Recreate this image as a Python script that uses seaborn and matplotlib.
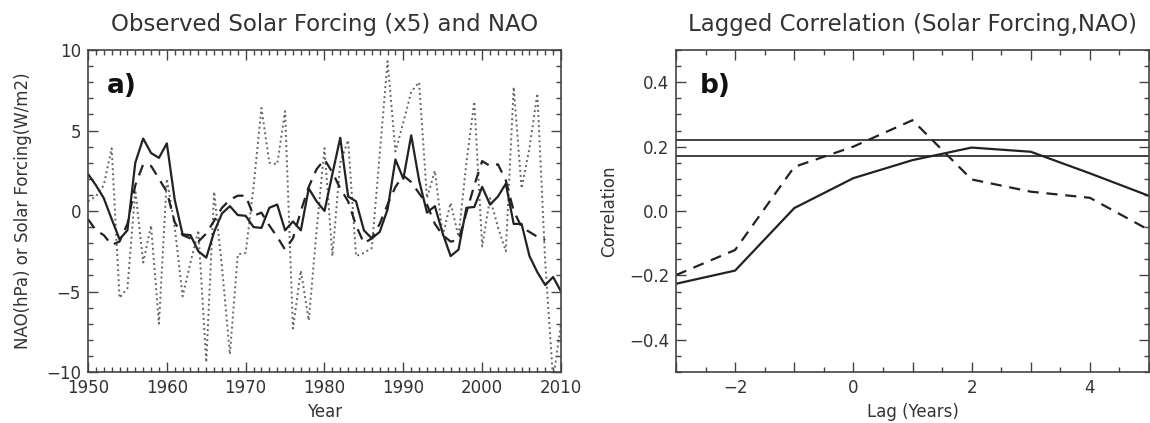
import numpy as np
import pandas as pd
import matplotlib
matplotlib.use("Agg")
import matplotlib.pyplot as plt
from matplotlib.ticker import MultipleLocator, FuncFormatter
import seaborn as sns

# ---------------- data ----------------
years = list(range(1950, 2011))

nao_solid = [2.3, 1.6, 0.8, -0.5, -1.75, -1.2, 3.0, 4.5, 3.6, 3.3,
             4.2, 0.7, -1.45, -1.5, -2.5, -2.9, -1.3, -0.15, 0.3, -0.25,
             -0.3, -1.0, -1.05, 0.2, 0.4, -1.2, -0.65, -1.2, 1.4, 0.6,
             0.0, 2.3, 4.55, 0.9, 0.6, -1.2, -1.7, -1.3, 0.1, 3.2,
             2.0, 4.7, 1.9, -0.1, 0.3, -1.4, -2.8, -2.4, 0.2, 0.25,
             1.5, 0.4, 0.9, 1.7, -0.8, -0.8, -2.8, -3.8, -4.6, -4.1,
             -5.0]

nao_dashed = [-0.5, -1.2, -1.5, -2.1, -1.9, -0.8, 1.6, 2.9, 2.8, 2.0,
              1.2, -0.7, -1.5, -1.7, -1.9, -1.4, -0.6, 0.2, 0.7, 0.95,
              0.95, -0.3, -0.1, -0.9, -1.6, -2.4, -1.7, 0.0, 1.5, 2.6,
              3.2, 2.4, 1.4, 0.6, -0.9, -2.0, -1.7, -0.8, 0.4, 1.5,
              2.2, 1.8, 1.1, 0.4, -0.8, -1.5, -1.9, -1.8, -0.1, 1.6,
              3.1, 2.8, 2.9, 1.9, 0.0, -1.0, -1.3, -1.6, -1.8, np.nan,
              np.nan]

solar_dotted = [0.6, 0.9, 1.6, 3.9, -5.4, -4.8, 1.3, -3.2, -0.9, -7.0,
                2.0, -1.0, -5.3, -3.2, -1.2, -9.4, 1.2, -3.5, -8.9, -2.7,
                -2.6, 1.5, 6.4, 3.0, 2.9, 6.2, -7.3, -3.7, -6.8, -1.2,
                3.9, -2.8, 3.0, 4.4, -2.8, -2.6, -2.3, 3.5, 9.3, 3.7,
                5.5, 7.4, 8.0, 0.8, 2.5, -1.5, 0.5, -1.6, 3.0, 6.8,
                -2.2, 0.8, -1.0, -2.5, 7.7, 1.4, 3.9, 7.3, -3.2, -10.5,
                -7.0]

lags = [-3, -2, -1, 0, 1, 2, 3, 4, 5]
corr_solid = [-0.226, -0.185, 0.009, 0.102, 0.158, 0.197, 0.184, 0.117, 0.047]
corr_dashed = [-0.199, -0.121, 0.137, 0.200, 0.282, 0.098, 0.060, 0.041, -0.059]
sig_levels = [0.22, 0.17]

# ---------------- style ----------------
sns.set_style("ticks")
plt.rcParams['font.family'] = ['DejaVu Sans']
plt.rcParams['xtick.direction'] = 'in'
plt.rcParams['ytick.direction'] = 'in'
plt.rcParams['xtick.top'] = True
plt.rcParams['ytick.right'] = True

fig = plt.figure(figsize=(11.5, 4.23), dpi=100)
W, H = 1150, 423
axa = fig.add_axes([88 / W, (H - 372) / H, 473 / W, 322 / H])
axb = fig.add_axes([676 / W, (H - 372) / H, 473 / W, 322 / H])

ink = "#222222"
txt = "#333333"

dfa = pd.DataFrame({"Year": years, "solid": nao_solid,
                    "dashed": nao_dashed, "dotted": solar_dotted})

sns.lineplot(data=dfa, x="Year", y="dotted", ax=axa, color="#666666",
             lw=1.4, linestyle=(0, (1, 1.6)))
sns.lineplot(data=dfa, x="Year", y="dashed", ax=axa, color=ink,
             lw=1.6, linestyle=(0, (5, 3.5)))
sns.lineplot(data=dfa, x="Year", y="solid", ax=axa, color=ink, lw=1.6)

axa.set_xlim(1950, 2010)
axa.set_ylim(-10, 10)
axa.xaxis.set_major_locator(MultipleLocator(10))
axa.xaxis.set_minor_locator(MultipleLocator(1))
axa.yaxis.set_major_locator(MultipleLocator(5))
axa.yaxis.set_minor_locator(MultipleLocator(1))
axa.set_xlabel("Year", fontsize=12, color=txt)
axa.set_ylabel("NAO(hPa) or Solar Forcing(W/m2)", fontsize=12, labelpad=10,
               color=txt)
axa.set_title("Observed Solar Forcing (x5) and NAO", fontsize=16.5, pad=14,
              color=txt)
axa.text(0.04, 0.93, "a)", transform=axa.transAxes, fontsize=19,
         fontweight="bold", va="top", ha="left", color="#111111")

dfb = pd.DataFrame({"Lag": lags, "solid": corr_solid, "dashed": corr_dashed})
for lvl in sig_levels:
    axb.axhline(lvl, color=ink, lw=1.2)
sns.lineplot(data=dfb, x="Lag", y="dashed", ax=axb, color=ink, lw=1.6,
             linestyle=(0, (5, 3.5)))
sns.lineplot(data=dfb, x="Lag", y="solid", ax=axb, color=ink, lw=1.6)

axb.set_xlim(-3, 5)
axb.set_ylim(-0.5, 0.5)
axb.xaxis.set_major_locator(MultipleLocator(1))
axb.xaxis.set_minor_locator(MultipleLocator(0.5))
axb.xaxis.set_major_formatter(FuncFormatter(
    lambda v, p: ("\u2212%d" % abs(round(v)) if v < 0 else "%d" % round(v))
    if round(v) % 2 == 0 else ""))
axb.yaxis.set_major_locator(MultipleLocator(0.2))
axb.yaxis.set_minor_locator(MultipleLocator(0.05))
axb.yaxis.set_major_formatter(FuncFormatter(
    lambda v, p: ("\u2212%.1f" % abs(v) if v < -1e-9 else "%.1f" % abs(v))))
axb.set_xlabel("Lag (Years)", fontsize=12, color=txt)
axb.set_ylabel("Correlation", fontsize=12, labelpad=8, color=txt)
axb.set_title("Lagged Correlation (Solar Forcing,NAO)", fontsize=16.5, pad=14,
              color=txt)
axb.text(0.05, 0.93, "b)", transform=axb.transAxes, fontsize=19,
         fontweight="bold", va="top", ha="left", color="#111111")

for ax in (axa, axb):
    ax.tick_params(which="major", length=7, width=1, labelsize=12,
                   colors="#444444", labelcolor=txt, pad=5)
    ax.tick_params(which="minor", length=3.5, width=1, colors="#444444")
    for s in ax.spines.values():
        s.set_color("#444444")
        s.set_linewidth(1.2)

fig.savefig("out.png", dpi=100)
